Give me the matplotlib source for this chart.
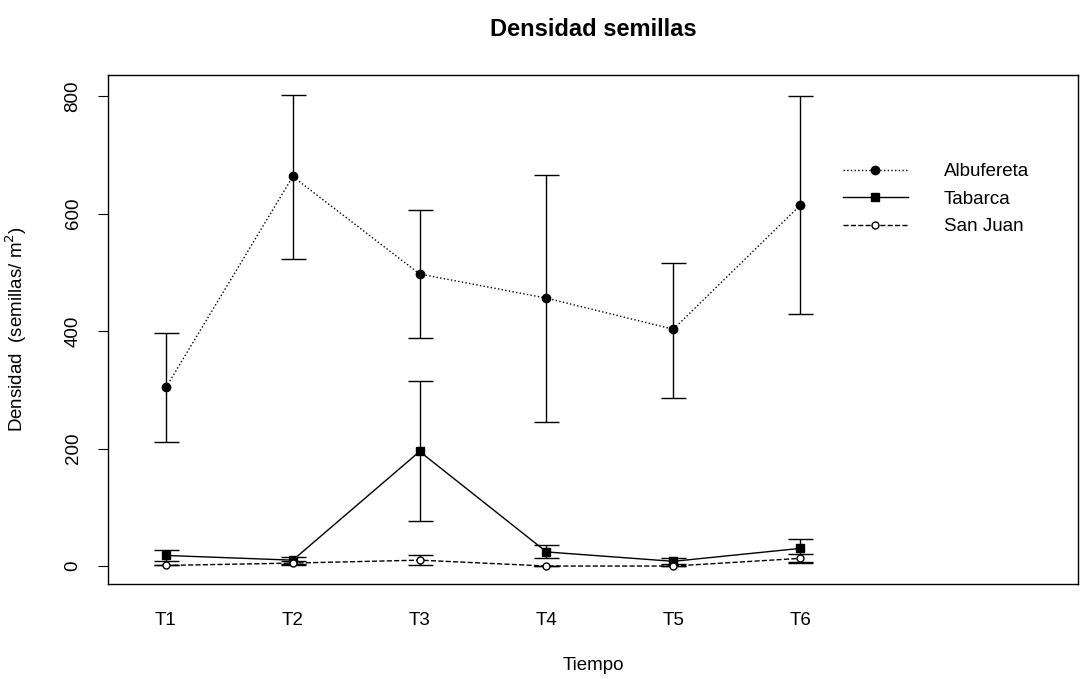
import matplotlib
matplotlib.use("Agg")
from matplotlib import pyplot as plt
import numpy as np

plt.rcParams['font.family'] = ['Liberation Sans', 'DejaVu Sans']

tiempos = ['T1', 'T2', 'T3', 'T4', 'T5', 'T6']

# Albufereta
albu = [304, 663, 497, 456, 403, 614]
albu_lo = [211, 522, 388, 245, 286, 429]
albu_hi = [396, 802, 606, 665, 516, 800]

# Tabarca
taba = [18, 10, 195, 24, 8, 30]
taba_lo = [9, 4, 77, 14, 3, 7]
taba_hi = [27, 16, 315, 36, 14, 46]

# San Juan
sanj = [1, 5, 10, 0, 0, 13]
sanj_lo = [1, 1, 2, 0, 0, 5]
sanj_hi = [1, 9, 18, 0, 0, 21]


def err(vals, lo, hi):
    vals = np.array(vals)
    return [vals - np.array(lo), np.array(hi) - vals]


fig = plt.figure(figsize=(10.81, 6.79), dpi=100)
ax = fig.add_axes([0.0999, 0.1399, 0.8973, 0.7496])

x = np.arange(1, len(tiempos) + 1)

ax.errorbar(x, sanj, yerr=err(sanj, sanj_lo, sanj_hi), fmt='none',
            ecolor='black', elinewidth=1, capsize=9, capthick=1)
ax.errorbar(x, taba, yerr=err(taba, taba_lo, taba_hi), fmt='none',
            ecolor='black', elinewidth=1, capsize=9, capthick=1)
ax.errorbar(x, albu, yerr=err(albu, albu_lo, albu_hi), fmt='none',
            ecolor='black', elinewidth=1, capsize=9, capthick=1)

ax.plot(x, albu, linestyle=':', color='black', linewidth=1,
        marker='o', markersize=6, markerfacecolor='black', label='Albufereta')
ax.plot(x, taba, linestyle='-', color='black', linewidth=1,
        marker='s', markersize=6, markerfacecolor='black', label='Tabarca')
ax.plot(x, sanj, linestyle='--', color='black', linewidth=1,
        marker='o', markersize=5, markerfacecolor='white', label='San Juan')

ax.set_xlim(0.543, 8.19)
ax.set_ylim(-30.6, 835.7)
ax.set_xticks(x)
ax.set_xticklabels(tiempos, fontsize=13.5)
ax.tick_params(axis='x', length=0, pad=20)
ax.set_yticks([0, 200, 400, 600, 800])
ax.set_yticklabels(['0', '200', '400', '600', '800'], fontsize=13.5,
                   rotation=90, va='center')
ax.tick_params(axis='y', length=7, pad=12)

for s in ax.spines.values():
    s.set_linewidth(1)

ax.set_title('Densidad semillas', fontsize=17, fontweight='bold', pad=28)
ax.set_xlabel('Tiempo', fontsize=13.5, labelpad=20)
ax.set_ylabel('Densidad  (semillas/ m$^2$)', fontsize=13.5)
ax.yaxis.set_label_coords(-0.081, 0.5)

ax.legend(loc='upper left', bbox_to_anchor=(0.74, 0.86), frameon=False,
          fontsize=13.5, handlelength=3.5, handletextpad=1.9, labelspacing=0.55)

fig.savefig('out.png', dpi=100)
